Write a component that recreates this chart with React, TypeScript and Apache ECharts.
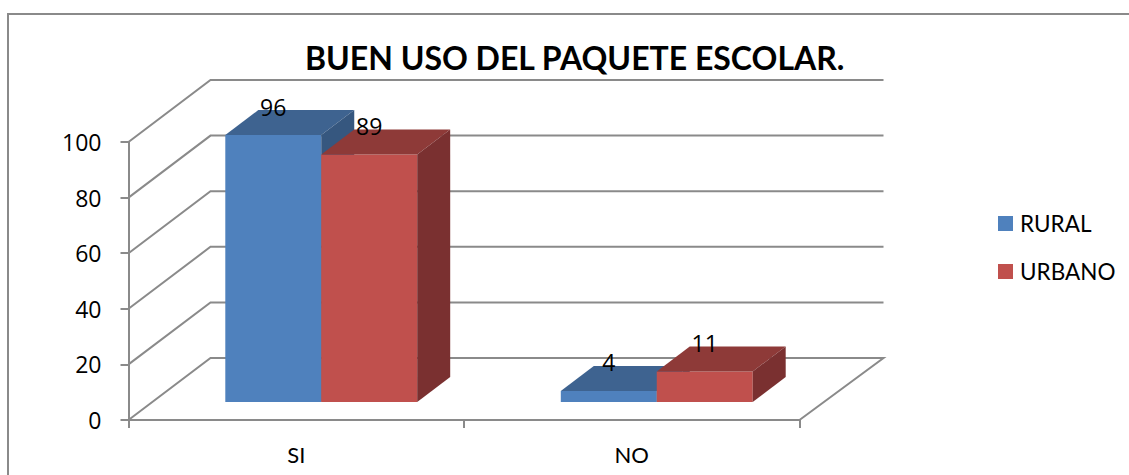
import React, { useEffect, useRef } from "react";
import * as echarts from "echarts";

const categories = ["SI", "NO"];
const rural = [96, 4];
const urban = [89, 11];
const yTicks = [0, 20, 40, 60, 80, 100];
const titleText = "BUEN USO DEL PAQUETE ESCOLAR.";

const FONT = "Lato";
const NUM_FONT = "'Open Sans'";
const GREY = "#8A8A8A";
const BACK_DX = 82;
const BACK_DY = -62;
const FLOOR_DX = 25;
const FLOOR_DY = -18;
const DEPTH_DX = 33;
const DEPTH_DY = -25;
const BAR_RATIO = 0.286;

function barSeries(name: string, values: number[], side: number, front: string, top: string, right: string) {
  return {
    type: "custom",
    name,
    z: 3,
    itemStyle: { color: front },
    encode: { x: 0, y: 1 },
    data: values.map((v, i) => [i, v]),
    renderItem: (_params: any, api: any) => {
      const p = api.coord([api.value(0), api.value(1)]);
      const base = api.coord([api.value(0), 0]);
      const w = api.size([1, 0])[0] * BAR_RATIO;
      const x0 = p[0] + FLOOR_DX + (side < 0 ? -w : 0);
      const x1 = x0 + w;
      const yT = p[1] + FLOOR_DY;
      const yB = base[1] + FLOOR_DY;
      const poly = (points: number[][], fill: string) => ({
        type: "polygon",
        shape: { points },
        style: { fill, stroke: null },
      });
      return {
        type: "group",
        children: [
          poly([[x0, yT], [x1, yT], [x1, yB], [x0, yB]], front),
          poly([[x0, yT], [x1, yT], [x1 + DEPTH_DX, yT + DEPTH_DY], [x0 + DEPTH_DX, yT + DEPTH_DY]], top),
          poly([[x1, yT], [x1 + DEPTH_DX, yT + DEPTH_DY], [x1 + DEPTH_DX, yB + DEPTH_DY], [x1, yB]], right),
          {
            type: "text",
            z2: 50,
            style: {
              text: String(api.value(1)),
              x: x0 + w / 2,
              y: yT - 28.5,
              align: "center",
              verticalAlign: "middle",
              fill: "#000",
              font: `23px ${NUM_FONT}`,
            },
          },
        ],
      };
    },
  };
}

export default function App() {
  const ref = useRef<HTMLDivElement>(null);
  useEffect(() => {
    document.body.style.margin = "0";
    const chart = echarts.init(ref.current!, null, { renderer: "svg" });
    const gridSeries = {
      type: "custom",
      silent: true,
      z: 1,
      encode: { x: 0, y: 1 },
      data: yTicks.map((v) => [0, v]),
      renderItem: (params: any, api: any) => {
        const cs = params.coordSys;
        const y = api.coord([0, api.value(1)])[1];
        const xL = cs.x;
        const xR = cs.x + cs.width;
        const pts: number[][] = [[xL, y], [xL + BACK_DX, y + BACK_DY], [xR + BACK_DX + 2, y + BACK_DY]];
        if (api.value(1) === 0) pts.push([xR, y]);
        return {
          type: "polyline",
          shape: { points: pts },
          style: { stroke: GREY, lineWidth: 2, fill: null },
        };
      },
    };
    chart.setOption({
      animation: false,
      title: {
        text: titleText,
        left: 305,
        top: 41,
        padding: 0,
        textStyle: { fontFamily: FONT, fontWeight: "bold", fontSize: 32, color: "#000" },
      },
      legend: {
        orient: "vertical",
        left: 998,
        top: 212,
        padding: 0,
        itemWidth: 15,
        itemHeight: 15,
        itemGap: 25,
        selectedMode: false,
        icon: "rect",
        data: ["RURAL", "URBANO"],
        textStyle: { fontFamily: FONT, fontSize: 22.5, color: "#000", padding: [0, 0, 0, 2] },
      },
      grid: { left: 128.5, top: 142, width: 671, height: 278, containLabel: false },
      xAxis: {
        type: "category",
        data: categories,
        boundaryGap: true,
        axisLine: { lineStyle: { color: GREY, width: 2 } },
        axisTick: { show: true, length: 8, alignWithLabel: false, lineStyle: { color: GREY, width: 2 } },
        axisLabel: { margin: 23, fontFamily: FONT, fontSize: 22, color: "#000" },
        splitLine: { show: false },
      },
      yAxis: {
        type: "value",
        min: 0,
        max: 100,
        interval: 20,
        axisLine: { show: true, lineStyle: { color: GREY, width: 2 } },
        axisTick: { show: true, length: 8, lineStyle: { color: GREY, width: 2 } },
        axisLabel: { margin: 27, fontFamily: NUM_FONT, fontSize: 23, color: "#000", padding: [5, 0, 0, 0] },
        splitLine: { show: false },
      },
      graphic: [
        {
          type: "polyline",
          silent: true,
          shape: { points: [[8, 475], [8, 14], [1129, 14]] },
          style: { stroke: GREY, lineWidth: 2, fill: null },
        },
      ],
      series: [
        gridSeries,
        barSeries("RURAL", rural, -1, "#4F81BD", "#3E6390", "#36577F"),
        barSeries("URBANO", urban, 1, "#C0504D", "#8E3A38", "#7A3030"),
      ],
    });
    return () => chart.dispose();
  }, []);
  return <div ref={ref} style={{ position: "absolute", left: 0, top: 0, width: 1129, height: 475 }} />;
}
